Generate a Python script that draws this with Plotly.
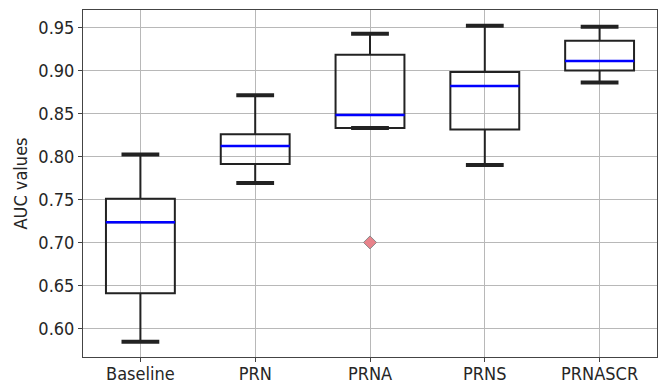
import plotly.graph_objects as go

categories = ["Baseline", "PRN", "PRNA", "PRNS", "PRNASCR"]
lower_whisker = [0.5844, 0.7693, 0.8333, 0.7902, 0.8864]
q1_values = [0.6407, 0.7914, 0.8333, 0.8314, 0.9003]
median_values = [0.7236, 0.8123, 0.8484, 0.8821, 0.9112]
q3_values = [0.7510, 0.8259, 0.9186, 0.8984, 0.9349]
upper_whisker = [0.8023, 0.8713, 0.9430, 0.9523, 0.9512]
outlier_x = ["PRNA"]
outlier_y = [0.700]
y_ticks = [0.60, 0.65, 0.70, 0.75, 0.80, 0.85, 0.90, 0.95]

FONT = "DejaVu Sans Condensed, DejaVu Sans"
FS = 18

fig = go.Figure()

fig.add_trace(go.Box(
    x=categories, q1=q1_values, median=median_values, q3=q3_values,
    lowerfence=lower_whisker, upperfence=upper_whisker,
    width=0.6, whiskerwidth=0,
    fillcolor="rgba(0,0,0,0)",
    line=dict(color="#222222", width=2),
    boxpoints=False, showlegend=False, hoverinfo="skip",
))

# medians in blue
fig.add_trace(go.Scatter(
    x=categories, y=median_values, mode="markers",
    marker=dict(symbol="line-ew", size=49.5, line=dict(color="#0000ff", width=2.5)),
    showlegend=False, hoverinfo="skip",
))

# whisker caps
fig.add_trace(go.Scatter(
    x=categories + categories, y=lower_whisker + upper_whisker, mode="markers",
    marker=dict(symbol="line-ew", size=27, line=dict(color="#222222", width=4)),
    showlegend=False, hoverinfo="skip",
))

# outlier
fig.add_trace(go.Scatter(
    x=outlier_x, y=outlier_y, mode="markers",
    marker=dict(symbol="diamond", size=10, color="#e8838b", line=dict(color="#8a8a8a", width=1)),
    showlegend=False, hoverinfo="skip",
))

fig.update_layout(
    width=661, height=384,
    margin=dict(l=83, r=4, t=10, b=27),
    paper_bgcolor="white", plot_bgcolor="white",
    font=dict(family=FONT, size=FS, color="#262626"),
)
fig.update_xaxes(
    type="category", categoryorder="array", categoryarray=categories,
    range=[-0.5, 4.5],
    showgrid=True, gridcolor="#b8b8b8", gridwidth=1,
    showline=True, linecolor="#444444", linewidth=1, mirror=True,
    ticks="outside", ticklen=4, tickcolor="#444444",
    tickfont=dict(family=FONT, size=FS, color="#262626"),
    ticklabelstandoff=-4,
    zeroline=False, automargin=False,
)
fig.update_yaxes(
    range=[0.5666, 0.9707],
    tickvals=y_ticks, ticktext=[f"{v:.2f}" for v in y_ticks],
    showgrid=True, gridcolor="#b8b8b8", gridwidth=1,
    showline=True, linecolor="#444444", linewidth=1, mirror=True,
    ticks="outside", ticklen=4, tickcolor="#444444",
    tickfont=dict(family=FONT, size=FS, color="#262626"),
    title=dict(text="AUC values", font=dict(family=FONT, size=FS, color="#262626"), standoff=6),
    zeroline=False, automargin=False,
)

fig.write_html("out.html", config={"displayModeBar": False},
               post_script="document.body.style.margin='0';document.body.style.overflow='hidden';")
